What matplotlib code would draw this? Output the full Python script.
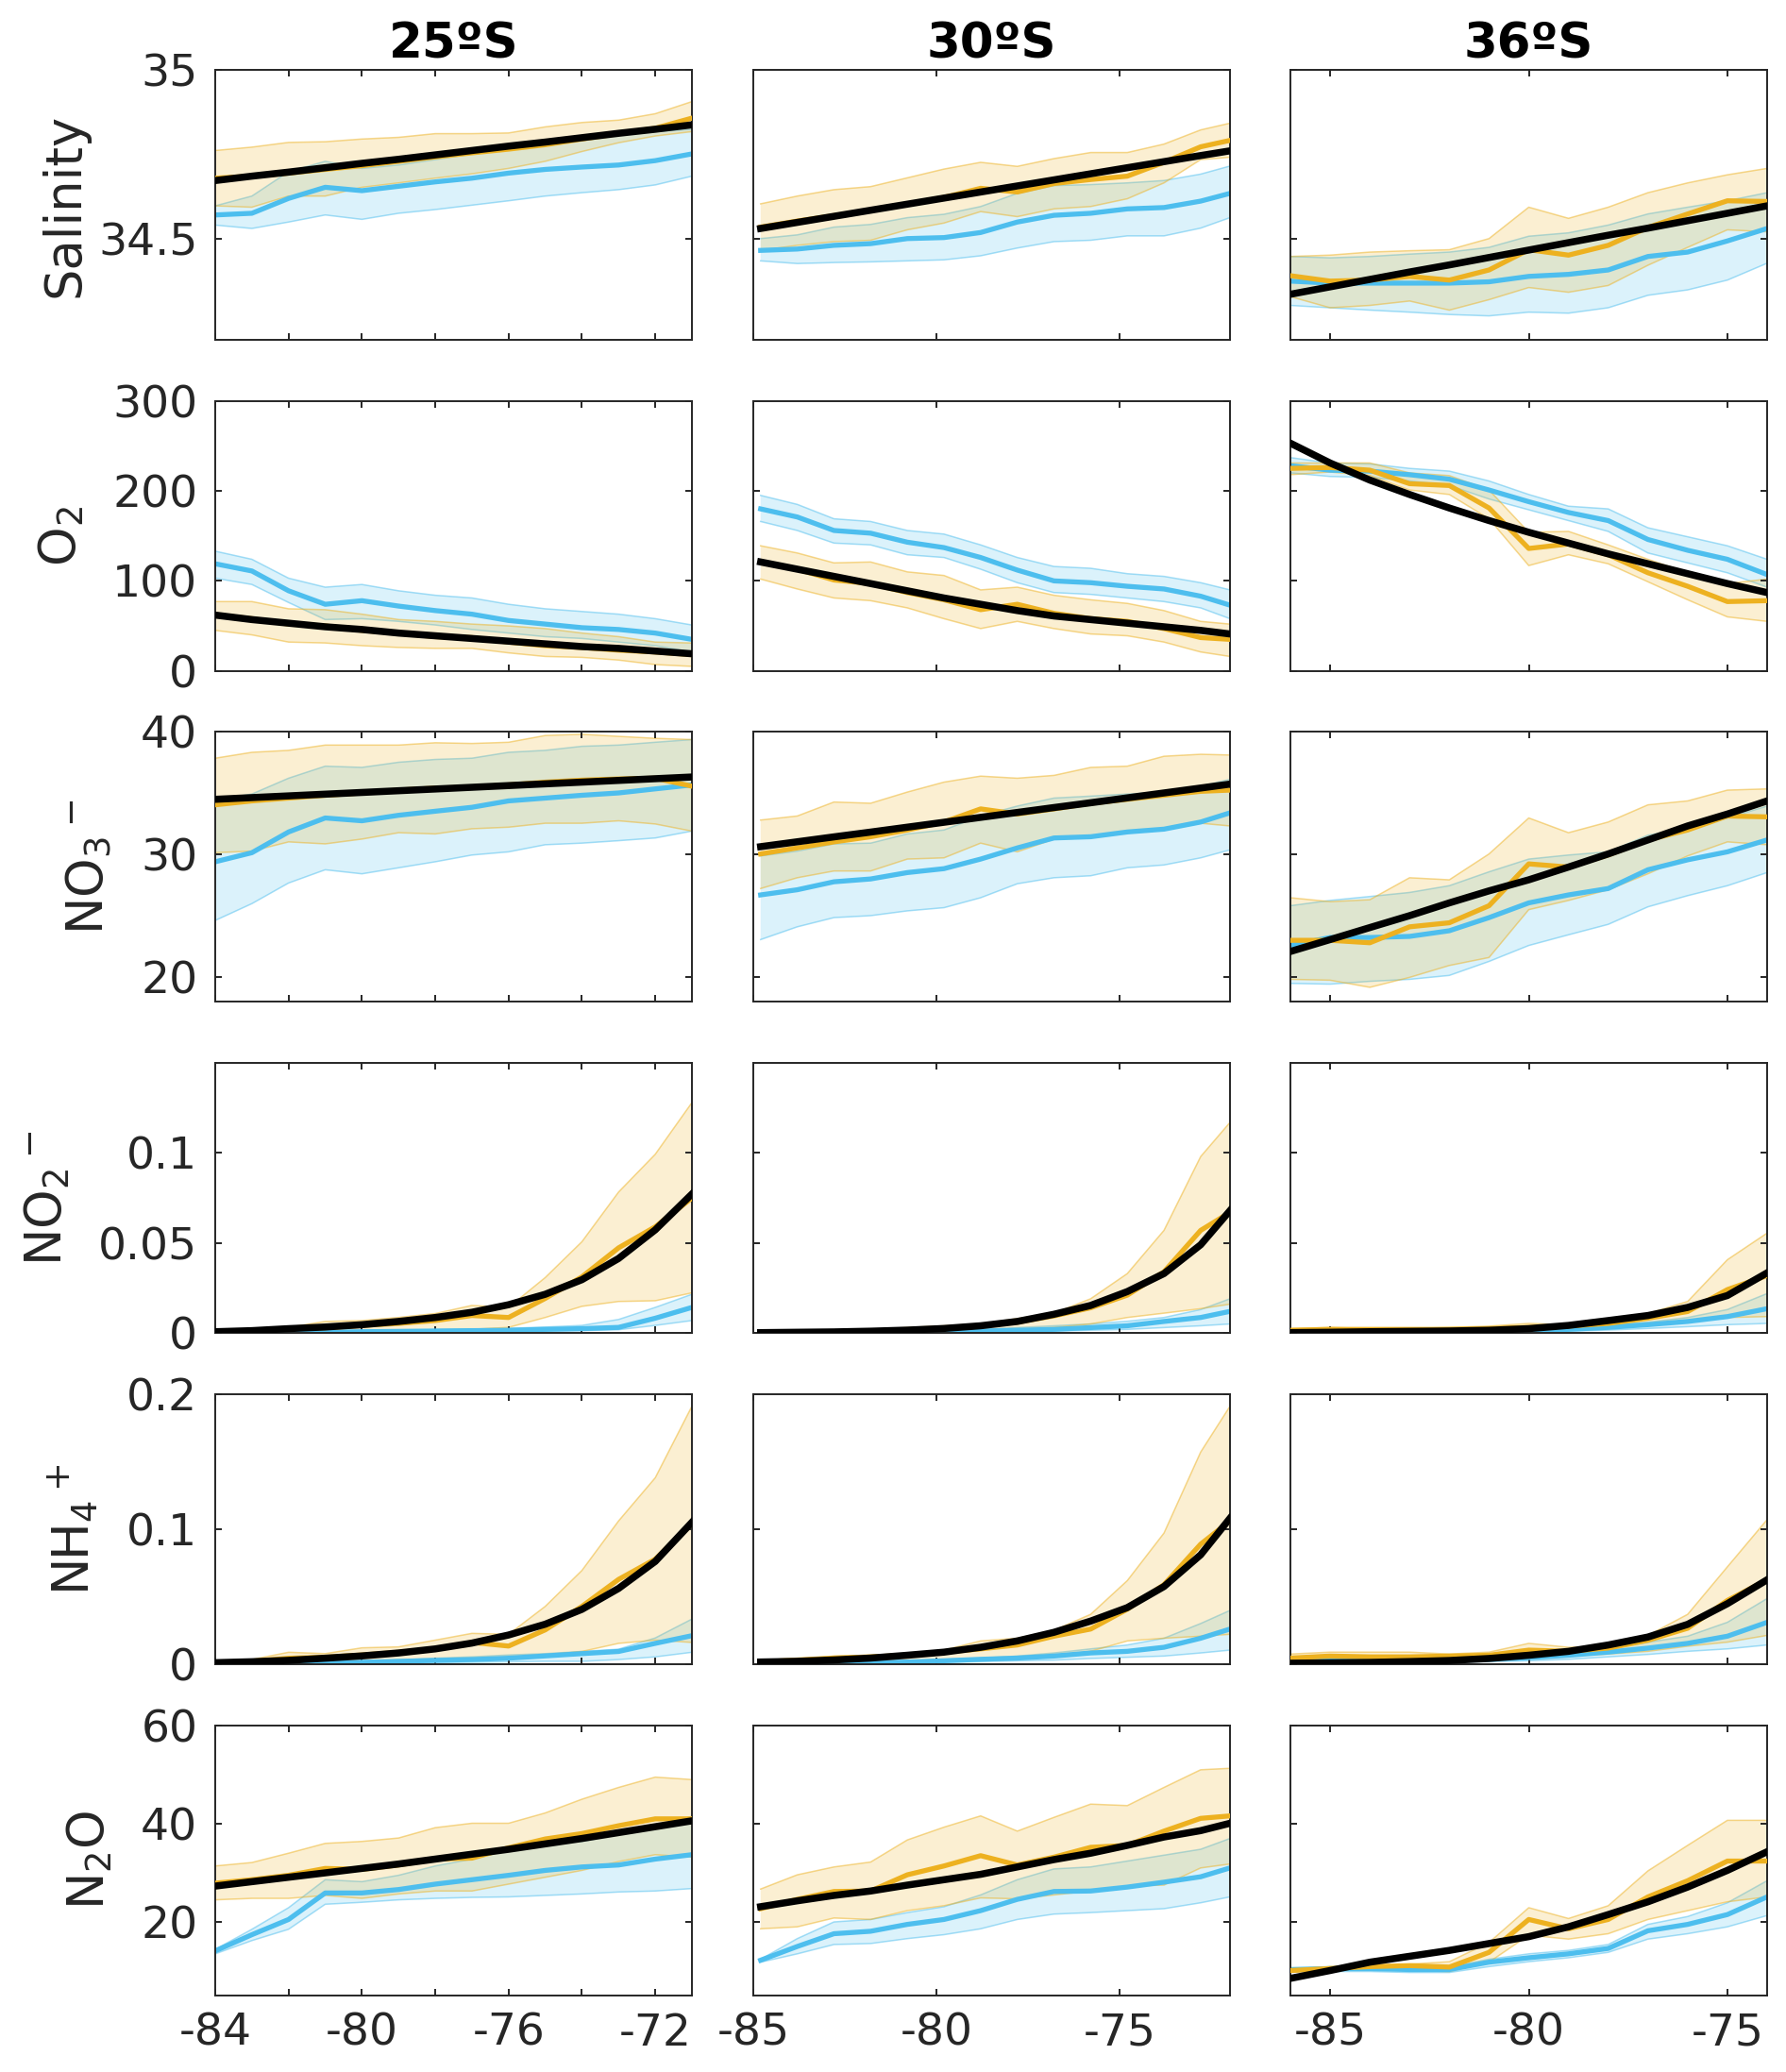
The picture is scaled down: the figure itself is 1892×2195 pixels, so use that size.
import matplotlib
matplotlib.use("Agg")
import matplotlib.pyplot as plt
from matplotlib.ticker import FormatStrFormatter

plt.rcParams['font.family'] = ['DejaVu Sans']
plt.rcParams['axes.unicode_minus'] = False
plt.rcParams['mathtext.default'] = 'regular'

# columns: latitude of each section
sites = ["25ºS", "30ºS", "36ºS"]
lon_25 = [-84, -83, -82, -81, -80, -79, -78, -77, -76, -75, -74, -73, -72, -71]
lon_30 = [-84.8, -83.8, -82.8, -81.8, -80.8, -79.8, -78.8, -77.8, -76.8, -75.8, -74.8, -73.8, -72.8, -72.0]
lon_36 = [-86, -85, -84, -83, -82, -81, -80, -79, -78, -77, -76, -75, -74]

# naming: <var>_<site>_<series>
#   ym/ylo/yhi = orange mean and range, bm/blo/bhi = blue mean and range, fit = black curve

# ---- Salinity
sal_25_fit = [34.672, 34.685, 34.697, 34.710, 34.723, 34.735, 34.748, 34.761, 34.774, 34.786, 34.799, 34.812, 34.824, 34.837]
sal_25_ym = [34.679, 34.685, 34.694, 34.705, 34.716, 34.729, 34.742, 34.754, 34.765, 34.778, 34.795, 34.811, 34.827, 34.857]
sal_25_yhi = [34.761, 34.771, 34.785, 34.787, 34.795, 34.800, 34.811, 34.811, 34.813, 34.831, 34.844, 34.851, 34.870, 34.906]
sal_25_ylo = [34.597, 34.593, 34.626, 34.626, 34.652, 34.665, 34.679, 34.692, 34.708, 34.729, 34.758, 34.784, 34.804, 34.817]
sal_25_bm = [34.570, 34.575, 34.619, 34.652, 34.642, 34.655, 34.668, 34.679, 34.694, 34.705, 34.712, 34.718, 34.731, 34.751]
sal_25_bhi = [34.597, 34.626, 34.698, 34.729, 34.708, 34.718, 34.734, 34.751, 34.774, 34.791, 34.804, 34.813, 34.817, 34.824]
sal_25_blo = [34.540, 34.530, 34.549, 34.570, 34.557, 34.575, 34.586, 34.599, 34.612, 34.626, 34.636, 34.645, 34.659, 34.685]

sal_30_fit = [34.530, 34.548, 34.566, 34.584, 34.602, 34.620, 34.638, 34.656, 34.674, 34.692, 34.710, 34.728, 34.746, 34.760]
sal_30_ym = [34.534, 34.552, 34.568, 34.583, 34.602, 34.622, 34.649, 34.638, 34.663, 34.675, 34.685, 34.726, 34.772, 34.791]
sal_30_yhi = [34.603, 34.626, 34.645, 34.654, 34.680, 34.706, 34.726, 34.714, 34.737, 34.755, 34.755, 34.780, 34.822, 34.842]
sal_30_ylo = [34.465, 34.480, 34.491, 34.495, 34.526, 34.546, 34.580, 34.565, 34.588, 34.595, 34.618, 34.665, 34.734, 34.741]
sal_30_bm = [34.465, 34.469, 34.480, 34.485, 34.500, 34.503, 34.518, 34.549, 34.569, 34.575, 34.588, 34.592, 34.611, 34.634]
sal_30_bhi = [34.500, 34.511, 34.534, 34.542, 34.562, 34.572, 34.595, 34.634, 34.657, 34.660, 34.665, 34.672, 34.691, 34.715]
sal_30_blo = [34.434, 34.426, 34.429, 34.431, 34.434, 34.437, 34.449, 34.472, 34.491, 34.495, 34.508, 34.508, 34.531, 34.562]

sal_36_fit = [34.335, 34.357, 34.379, 34.401, 34.422, 34.444, 34.466, 34.488, 34.510, 34.531, 34.553, 34.575, 34.597]
sal_36_ym = [34.390, 34.374, 34.377, 34.388, 34.377, 34.407, 34.467, 34.451, 34.480, 34.533, 34.573, 34.612, 34.610]
sal_36_yhi = [34.447, 34.451, 34.460, 34.464, 34.467, 34.500, 34.593, 34.560, 34.593, 34.636, 34.665, 34.689, 34.708]
sal_36_ylo = [34.328, 34.295, 34.302, 34.315, 34.288, 34.319, 34.355, 34.341, 34.361, 34.421, 34.474, 34.526, 34.520]
sal_36_bm = [34.374, 34.368, 34.368, 34.368, 34.368, 34.372, 34.388, 34.394, 34.407, 34.447, 34.460, 34.493, 34.530]
sal_36_bhi = [34.447, 34.443, 34.447, 34.454, 34.460, 34.474, 34.507, 34.517, 34.540, 34.573, 34.593, 34.612, 34.636]
sal_36_blo = [34.302, 34.295, 34.288, 34.282, 34.275, 34.271, 34.282, 34.279, 34.295, 34.332, 34.348, 34.377, 34.427]

# ---- O2
o2_25_fit = [62, 57, 53, 49, 46, 42, 39, 36, 33, 30, 27, 25, 22, 19]
o2_25_ym = [62, 58, 52, 50, 45, 42, 38, 37, 32, 28, 26, 23, 21, 18]
o2_25_yhi = [77, 77, 69, 68, 63, 57, 55, 52, 50, 47, 42, 38, 32, 31]
o2_25_ylo = [45, 40, 32, 31, 28, 26, 25, 25, 20, 16, 15, 12, 7, 5]
o2_25_bm = [119, 111, 89, 74, 78, 72, 67, 63, 56, 52, 48, 46, 42, 35]
o2_25_bhi = [133, 124, 103, 93, 96, 89, 84, 81, 74, 69, 66, 63, 58, 51]
o2_25_blo = [103, 96, 76, 57, 58, 55, 51, 46, 42, 38, 36, 32, 28, 21]

o2_30_fit = [121, 113, 105, 97, 89, 81, 74, 67, 61, 57, 53, 49, 45, 41]
o2_30_ym = [121, 113, 101, 97, 87, 79, 68, 74, 64, 58, 55, 47, 37, 35]
o2_30_yhi = [139, 131, 120, 121, 110, 106, 90, 93, 84, 79, 75, 67, 55, 52]
o2_30_ylo = [102, 91, 81, 78, 70, 58, 47, 55, 47, 41, 39, 32, 21, 16]
o2_30_bm = [180, 171, 156, 153, 143, 137, 126, 112, 100, 98, 94, 91, 83, 73]
o2_30_bhi = [195, 185, 169, 166, 156, 152, 140, 126, 116, 114, 108, 105, 98, 90]
o2_30_blo = [166, 156, 142, 140, 129, 126, 113, 98, 87, 85, 81, 77, 70, 58]

o2_36_fit = [253, 231, 212, 196, 181, 167, 154, 142, 130, 119, 108, 97, 87]
o2_36_ym = [225, 226, 223, 208, 206, 181, 136, 141, 129, 109, 94, 77, 78]
o2_36_yhi = [231, 231, 231, 220, 217, 201, 154, 155, 140, 124, 109, 97, 102]
o2_36_ylo = [218, 221, 217, 201, 196, 169, 117, 129, 119, 99, 79, 60, 55]
o2_36_bm = [228, 223, 222, 218, 213, 201, 188, 176, 167, 146, 134, 124, 107]
o2_36_bhi = [237, 231, 230, 225, 222, 211, 196, 183, 180, 159, 149, 139, 124]
o2_36_blo = [220, 216, 215, 211, 206, 191, 179, 167, 155, 131, 120, 109, 93]

# ---- NO3-
no3_25_fit = [34.51, 34.65, 34.79, 34.93, 35.07, 35.21, 35.35, 35.49, 35.63, 35.77, 35.91, 36.05, 36.19, 36.33]
no3_25_ym = [34.06, 34.38, 34.61, 34.84, 35.03, 35.26, 35.42, 35.49, 35.68, 35.91, 36.07, 36.17, 36.23, 35.58]
no3_25_yhi = [37.86, 38.34, 38.50, 38.93, 38.93, 38.93, 39.12, 39.06, 39.16, 39.71, 39.81, 39.64, 39.48, 39.38]
no3_25_ylo = [30.16, 30.29, 31.04, 30.88, 31.27, 31.79, 31.69, 32.11, 32.24, 32.56, 32.56, 32.76, 32.50, 31.92]
no3_25_bm = [29.42, 30.16, 31.85, 32.99, 32.76, 33.21, 33.54, 33.86, 34.38, 34.61, 34.84, 35.03, 35.36, 35.68]
no3_25_bhi = [34.45, 34.94, 36.23, 37.21, 37.11, 37.53, 37.76, 37.86, 38.34, 38.50, 38.83, 38.93, 39.16, 39.38]
no3_25_blo = [24.64, 26.01, 27.69, 28.77, 28.44, 28.93, 29.42, 29.97, 30.23, 30.81, 30.94, 31.14, 31.36, 31.92]

no3_30_fit = [30.65, 31.05, 31.45, 31.84, 32.24, 32.64, 33.04, 33.44, 33.84, 34.23, 34.63, 35.03, 35.43, 35.75]
no3_30_ym = [30.06, 30.55, 31.04, 31.46, 32.01, 32.66, 33.73, 33.31, 33.73, 34.19, 34.51, 34.84, 35.16, 35.26]
no3_30_yhi = [32.82, 33.15, 34.29, 34.19, 35.10, 35.91, 36.40, 36.23, 36.46, 37.11, 37.21, 38.02, 38.18, 38.12]
no3_30_ylo = [27.24, 28.12, 28.67, 28.67, 29.64, 29.74, 30.94, 30.23, 31.27, 31.36, 31.85, 32.01, 32.56, 32.34]
no3_30_bm = [26.72, 27.14, 27.79, 28.02, 28.54, 28.86, 29.64, 30.55, 31.36, 31.46, 31.85, 32.08, 32.66, 33.41]
no3_30_bhi = [29.90, 30.29, 30.88, 30.94, 31.69, 32.01, 33.15, 33.96, 34.61, 34.77, 34.94, 35.10, 35.58, 36.14]
no3_30_blo = [23.08, 24.12, 24.87, 25.03, 25.42, 25.68, 26.49, 27.63, 28.12, 28.28, 28.93, 29.16, 29.74, 30.39]

no3_36_fit = [22.11, 23.08, 24.06, 25.03, 26.07, 27.05, 27.95, 28.99, 30.06, 31.20, 32.34, 33.31, 34.38]
no3_36_ym = [23.02, 23.02, 22.82, 24.12, 24.45, 25.84, 29.25, 28.99, 29.97, 31.20, 32.01, 33.15, 33.08]
no3_36_yhi = [26.49, 26.17, 26.33, 28.12, 27.95, 30.06, 32.99, 31.79, 32.66, 34.06, 34.38, 35.26, 35.36]
no3_36_ylo = [19.84, 19.77, 19.19, 20.00, 20.97, 21.62, 25.52, 26.27, 27.14, 28.44, 29.90, 31.04, 30.81]
no3_36_bm = [22.60, 23.25, 23.25, 23.34, 23.80, 24.87, 26.07, 26.72, 27.24, 28.77, 29.58, 30.23, 31.20]
no3_36_bhi = [25.84, 26.27, 26.59, 26.92, 27.47, 28.60, 29.64, 29.97, 30.23, 31.59, 32.18, 32.99, 33.96]
no3_36_blo = [19.51, 19.45, 19.68, 19.84, 20.16, 21.30, 22.60, 23.47, 24.32, 25.75, 26.66, 27.47, 28.54]

# ---- NO2-
no2_25_fit = [0.0007, 0.0013, 0.0024, 0.0033, 0.0046, 0.0064, 0.0086, 0.0115, 0.0157, 0.0215, 0.0296, 0.0414, 0.0573, 0.0772]
no2_25_ym = [0.0007, 0.0013, 0.0024, 0.0029, 0.0042, 0.0053, 0.0069, 0.0097, 0.0086, 0.0192, 0.0312, 0.0473, 0.0590, 0.0750]
no2_25_yhi = [0.0009, 0.0020, 0.0031, 0.0064, 0.0069, 0.0086, 0.0108, 0.0153, 0.0142, 0.0308, 0.0507, 0.0783, 0.0993, 0.1280]
no2_25_ylo = [0.0, 0.0, 0.0002, 0.0004, 0.0007, 0.0009, 0.0013, 0.0020, 0.0031, 0.0086, 0.0148, 0.0175, 0.0179, 0.0223]
no2_25_bm = [0.0, 0.0, 0.0002, 0.0004, 0.0007, 0.0009, 0.0011, 0.0013, 0.0015, 0.0020, 0.0024, 0.0031, 0.0082, 0.0142]
no2_25_bhi = [0.0003, 0.0004, 0.0006, 0.0008, 0.0011, 0.0014, 0.0018, 0.0022, 0.0026, 0.0033, 0.0042, 0.0075, 0.0142, 0.0215]
no2_25_blo = [0.0, 0.0, 0.0, 0.0, 0.0002, 0.0004, 0.0005, 0.0006, 0.0007, 0.0010, 0.0013, 0.0018, 0.0042, 0.0069]

no2_30_fit = [0.0002, 0.0004, 0.0006, 0.0010, 0.0016, 0.0025, 0.0040, 0.0064, 0.0104, 0.0153, 0.0230, 0.0330, 0.0490, 0.0680]
no2_30_ym = [0.0002, 0.0004, 0.0006, 0.0010, 0.0016, 0.0025, 0.0040, 0.0060, 0.0095, 0.0140, 0.0210, 0.0340, 0.0570, 0.0670]
no2_30_yhi = [0.0010, 0.0010, 0.0015, 0.0020, 0.0030, 0.0040, 0.0050, 0.0080, 0.0110, 0.0190, 0.0330, 0.0570, 0.0980, 0.1170]
no2_30_ylo = [0.0, 0.0, 0.0, 0.0, 0.0, 0.0005, 0.0010, 0.0020, 0.0030, 0.0050, 0.0086, 0.0110, 0.0135, 0.0160]
no2_30_bm = [0.0, 0.0, 0.0, 0.0002, 0.0004, 0.0006, 0.0010, 0.0015, 0.0020, 0.0030, 0.0040, 0.0064, 0.0086, 0.0120]
no2_30_bhi = [0.0003, 0.0003, 0.0005, 0.0008, 0.0010, 0.0015, 0.0020, 0.0030, 0.0040, 0.0050, 0.0065, 0.0086, 0.0130, 0.0190]
no2_30_blo = [0.0, 0.0, 0.0, 0.0, 0.0, 0.0, 0.0003, 0.0005, 0.0010, 0.0015, 0.0020, 0.0030, 0.0040, 0.0050]

no2_36_fit = [0.0002, 0.0004, 0.0007, 0.0009, 0.0011, 0.0015, 0.0024, 0.0042, 0.0069, 0.0097, 0.0142, 0.0208, 0.0334]
no2_36_ym = [0.0015, 0.0020, 0.0020, 0.0020, 0.0020, 0.0024, 0.0031, 0.0038, 0.0053, 0.0082, 0.0119, 0.0241, 0.0319]
no2_36_yhi = [0.0024, 0.0031, 0.0024, 0.0024, 0.0031, 0.0038, 0.0053, 0.0046, 0.0069, 0.0108, 0.0175, 0.0407, 0.0555]
no2_36_ylo = [0.0002, 0.0002, 0.0002, 0.0002, 0.0004, 0.0007, 0.0009, 0.0013, 0.0024, 0.0046, 0.0069, 0.0086, 0.0091]
no2_36_bm = [0.0002, 0.0002, 0.0002, 0.0004, 0.0007, 0.0009, 0.0013, 0.0020, 0.0031, 0.0046, 0.0064, 0.0091, 0.0135]
no2_36_bhi = [0.0005, 0.0005, 0.0006, 0.0008, 0.0012, 0.0016, 0.0022, 0.0030, 0.0045, 0.0060, 0.0086, 0.0130, 0.0219]
no2_36_blo = [0.0, 0.0, 0.0, 0.0, 0.0002, 0.0004, 0.0006, 0.0010, 0.0016, 0.0025, 0.0035, 0.0046, 0.0053]

# ---- NH4+
nh4_25_fit = [0.0010, 0.0017, 0.0027, 0.0043, 0.0060, 0.0082, 0.0112, 0.0155, 0.0215, 0.0295, 0.0405, 0.0560, 0.0760, 0.1050]
nh4_25_ym = [0.0010, 0.0020, 0.0043, 0.0050, 0.0067, 0.0087, 0.0110, 0.0160, 0.0133, 0.0253, 0.0427, 0.0627, 0.0777, 0.1040]
nh4_25_yhi = [0.0020, 0.0033, 0.0087, 0.0077, 0.0120, 0.0127, 0.0177, 0.0227, 0.0220, 0.0427, 0.0693, 0.1060, 0.1380, 0.1910]
nh4_25_ylo = [0.0, 0.0003, 0.0007, 0.0010, 0.0017, 0.0020, 0.0027, 0.0033, 0.0043, 0.0067, 0.0093, 0.0153, 0.0177, 0.0160]
nh4_25_bm = [0.0, 0.0, 0.0003, 0.0007, 0.0013, 0.0020, 0.0027, 0.0033, 0.0043, 0.0060, 0.0077, 0.0093, 0.0153, 0.0210]
nh4_25_bhi = [0.0003, 0.0007, 0.0010, 0.0017, 0.0023, 0.0030, 0.0043, 0.0053, 0.0067, 0.0077, 0.0093, 0.0110, 0.0193, 0.0333]
nh4_25_blo = [0.0, 0.0, 0.0, 0.0, 0.0003, 0.0007, 0.0010, 0.0013, 0.0017, 0.0020, 0.0020, 0.0033, 0.0053, 0.0087]

nh4_30_fit = [0.0015, 0.0020, 0.0030, 0.0044, 0.0065, 0.0088, 0.0124, 0.0171, 0.0235, 0.0318, 0.0418, 0.0574, 0.0809, 0.1080]
nh4_30_ym = [0.0015, 0.0030, 0.0044, 0.0053, 0.0065, 0.0088, 0.0112, 0.0141, 0.0206, 0.0259, 0.0406, 0.0588, 0.0888, 0.1060]
nh4_30_yhi = [0.0024, 0.0035, 0.0059, 0.0065, 0.0074, 0.0103, 0.0171, 0.0191, 0.0250, 0.0368, 0.0618, 0.0970, 0.1570, 0.1910]
nh4_30_ylo = [0.0006, 0.0006, 0.0009, 0.0012, 0.0015, 0.0020, 0.0026, 0.0035, 0.0059, 0.0094, 0.0171, 0.0191, 0.0206, 0.0220]
nh4_30_bm = [0.0003, 0.0003, 0.0006, 0.0009, 0.0015, 0.0024, 0.0035, 0.0044, 0.0059, 0.0082, 0.0094, 0.0124, 0.0191, 0.0259]
nh4_30_bhi = [0.0006, 0.0006, 0.0012, 0.0018, 0.0024, 0.0035, 0.0044, 0.0059, 0.0082, 0.0112, 0.0141, 0.0191, 0.0300, 0.0397]
nh4_30_blo = [0.0, 0.0, 0.0, 0.0003, 0.0006, 0.0012, 0.0018, 0.0024, 0.0029, 0.0041, 0.0050, 0.0059, 0.0082, 0.0103]

nh4_36_fit = [0.0006, 0.0009, 0.0012, 0.0018, 0.0026, 0.0041, 0.0065, 0.0094, 0.0141, 0.0200, 0.0294, 0.0447, 0.0624]
nh4_36_ym = [0.0044, 0.0059, 0.0053, 0.0053, 0.0059, 0.0065, 0.0103, 0.0094, 0.0118, 0.0176, 0.0265, 0.0471, 0.0624]
nh4_36_yhi = [0.0074, 0.0088, 0.0088, 0.0088, 0.0074, 0.0088, 0.0153, 0.0124, 0.0132, 0.0212, 0.0368, 0.0720, 0.1070]
nh4_36_ylo = [0.0024, 0.0024, 0.0024, 0.0024, 0.0029, 0.0041, 0.0053, 0.0059, 0.0074, 0.0094, 0.0132, 0.0162, 0.0212]
nh4_36_bm = [0.0015, 0.0024, 0.0024, 0.0024, 0.0029, 0.0035, 0.0047, 0.0065, 0.0088, 0.0118, 0.0153, 0.0206, 0.0309]
nh4_36_bhi = [0.0029, 0.0035, 0.0035, 0.0035, 0.0041, 0.0053, 0.0065, 0.0082, 0.0112, 0.0162, 0.0206, 0.0309, 0.0485]
nh4_36_blo = [0.0006, 0.0006, 0.0006, 0.0006, 0.0012, 0.0018, 0.0024, 0.0035, 0.0053, 0.0071, 0.0094, 0.0112, 0.0141]

# ---- N2O
n2o_25_fit = [27.2, 28.1, 29.0, 29.9, 30.8, 31.7, 32.7, 33.7, 34.7, 35.8, 36.9, 38.1, 39.3, 40.5]
n2o_25_ym = [27.8, 28.5, 29.4, 30.8, 30.6, 31.5, 32.7, 32.9, 35.0, 36.8, 37.9, 39.5, 40.9, 40.9]
n2o_25_yhi = [31.3, 32.0, 33.9, 35.9, 36.3, 37.0, 39.1, 40.0, 40.0, 42.1, 44.9, 47.3, 49.4, 48.9]
n2o_25_ylo = [24.4, 24.7, 24.7, 25.3, 24.7, 25.6, 26.2, 26.2, 27.6, 29.0, 30.4, 32.2, 33.6, 33.1]
n2o_25_bm = [14.0, 17.3, 20.4, 25.8, 25.8, 26.5, 27.6, 28.5, 29.4, 30.4, 31.1, 31.5, 32.7, 33.6]
n2o_25_bhi = [14.3, 18.4, 22.8, 28.5, 28.1, 29.4, 31.3, 32.7, 34.5, 35.9, 36.3, 37.7, 39.5, 41.4]
n2o_25_blo = [13.4, 16.1, 18.4, 23.5, 23.9, 24.4, 24.7, 24.9, 25.0, 25.3, 25.6, 26.0, 26.2, 26.7]

n2o_30_fit = [23.0, 24.2, 25.3, 26.2, 27.4, 28.5, 29.6, 31.1, 32.6, 33.9, 35.5, 37.2, 38.5, 40.0]
n2o_30_ym = [22.6, 24.5, 26.1, 26.2, 29.5, 31.3, 33.4, 31.5, 33.1, 35.1, 35.5, 38.4, 41.0, 41.5]
n2o_30_yhi = [26.6, 29.5, 31.1, 32.1, 36.6, 39.2, 41.5, 38.4, 41.2, 43.9, 43.6, 47.3, 50.9, 51.2]
n2o_30_ylo = [18.5, 18.9, 20.7, 20.4, 22.2, 23.2, 24.8, 24.6, 25.4, 26.2, 27.2, 27.4, 30.9, 31.7]
n2o_30_bm = [12.1, 14.9, 17.5, 18.0, 19.4, 20.4, 22.2, 24.5, 26.1, 26.2, 27.0, 28.0, 29.1, 30.9]
n2o_30_bhi = [12.3, 16.5, 19.9, 20.4, 21.8, 23.0, 25.4, 28.5, 30.7, 31.1, 32.3, 33.5, 34.7, 36.9]
n2o_30_blo = [11.7, 13.4, 15.3, 15.5, 16.5, 17.3, 18.5, 20.4, 21.5, 21.8, 22.2, 22.6, 23.8, 25.0]

n2o_36_fit = [8.4, 10.0, 11.7, 12.9, 14.1, 15.5, 16.9, 18.9, 21.4, 24.0, 27.0, 30.4, 34.2]
n2o_36_ym = [10.0, 10.4, 10.8, 11.0, 10.7, 13.7, 20.4, 18.5, 20.4, 25.0, 28.3, 32.3, 32.3]
n2o_36_yhi = [10.2, 10.8, 10.8, 11.3, 11.8, 15.7, 22.8, 20.6, 23.2, 30.3, 35.5, 40.6, 40.6]
n2o_36_ylo = [9.6, 10.4, 10.7, 10.0, 9.8, 11.7, 17.2, 16.4, 17.5, 20.4, 22.2, 24.0, 25.0]
n2o_36_bm = [10.2, 10.4, 10.4, 10.2, 10.2, 11.7, 12.6, 13.4, 14.5, 18.1, 19.4, 21.4, 25.0]
n2o_36_bhi = [10.4, 10.7, 10.7, 10.7, 10.7, 12.3, 13.4, 14.1, 15.3, 19.4, 21.0, 23.8, 28.3]
n2o_36_blo = [9.8, 9.8, 9.8, 9.6, 9.6, 10.8, 11.8, 12.6, 13.7, 16.4, 17.5, 18.9, 21.2]

# rows of the figure
variables = ["sal", "o2", "no3", "no2", "nh4", "n2o"]
ylabels = ["Salinity", "O$_2$", "NO$_3$$^-$", "NO$_2$$^-$", "NH$_4$$^+$", "N$_2$O"]
label_pads = [7, 20, 20, 20, 20, 20]
ylims = [(34.2, 35), (0, 300), (18, 40), (0, 0.15), (0, 0.2), (5, 60)]
yticks = [[34.5, 35], [0, 100, 200, 300], [20, 30, 40], [0, 0.05, 0.1], [0, 0.1, 0.2], [20, 40, 60]]
lons = [lon_25, lon_30, lon_36]
site_keys = ["25", "30", "36"]
xlims = [(-84, -71), (-85, -72), (-86, -74)]

ORANGE = "#EDB120"
BLUE = "#4DBEEE"
INK = "#262626"

series = {}
for v in variables:
    for s in site_keys:
        series[(v, s)] = {k: globals()[f"{v}_{s}_{k}"] for k in ["fit", "ym", "ylo", "yhi", "bm", "blo", "bhi"]}


def band(ax, x, lo, hi, color):
    ax.fill_between(x, lo, hi, facecolor=color, alpha=0.2, edgecolor="none", zorder=1)
    ax.plot(x, lo, color=color, alpha=0.5, lw=1.1, zorder=1)
    ax.plot(x, hi, color=color, alpha=0.5, lw=1.1, zorder=1)


fig = plt.figure(figsize=(18.92, 21.95), dpi=100)
W, H = 1892.0, 2195.0
col_left = [228, 798, 1367]
ax_w, ax_h = 505, 286
row_top0, row_step = 74, 350.7

for r, v in enumerate(variables):
    for c, s in enumerate(site_keys):
        top = row_top0 + r * row_step
        ax = fig.add_axes([col_left[c] / W, 1 - (top + ax_h) / H, ax_w / W, ax_h / H])
        d = series[(v, s)]
        x = lons[c]

        band(ax, x, d["blo"], d["bhi"], BLUE)
        ax.plot(x, d["bm"], color=BLUE, lw=3.8, zorder=2)
        band(ax, x, d["ylo"], d["yhi"], ORANGE)
        ax.plot(x, d["ym"], color=ORANGE, lw=3.8, zorder=3)
        ax.plot(x, d["fit"], color="black", lw=5.4, zorder=4)

        ax.set_xlim(*xlims[c])
        ax.set_ylim(*ylims[r])
        ax.set_yticks(yticks[r])
        ax.yaxis.set_major_formatter(FormatStrFormatter("%g"))
        if c == 0:
            ax.set_xticks([-84, -80, -76, -72])
            ax.set_xticks([-82, -78, -74], minor=True)
        else:
            ax.set_xticks([-85, -80, -75])

        ax.tick_params(which="both", direction="in", length=5, width=1.4, color=INK,
                       top=True, right=True, labelsize=34, labelcolor=INK)
        ax.tick_params(axis="x", pad=13)
        ax.tick_params(axis="y", pad=13.5)
        ax.tick_params(labelbottom=(r == len(variables) - 1), labelleft=(c == 0))
        for sp in ax.spines.values():
            sp.set_color(INK)
            sp.set_linewidth(1.4)

        if r == 0:
            ax.set_title(sites[c], fontsize=37, fontweight="bold", pad=9)
        if c == 0:
            ax.set_ylabel(ylabels[r], fontsize=38, color=INK, labelpad=label_pads[r])

fig.savefig("out.png", dpi=100, facecolor="white")
